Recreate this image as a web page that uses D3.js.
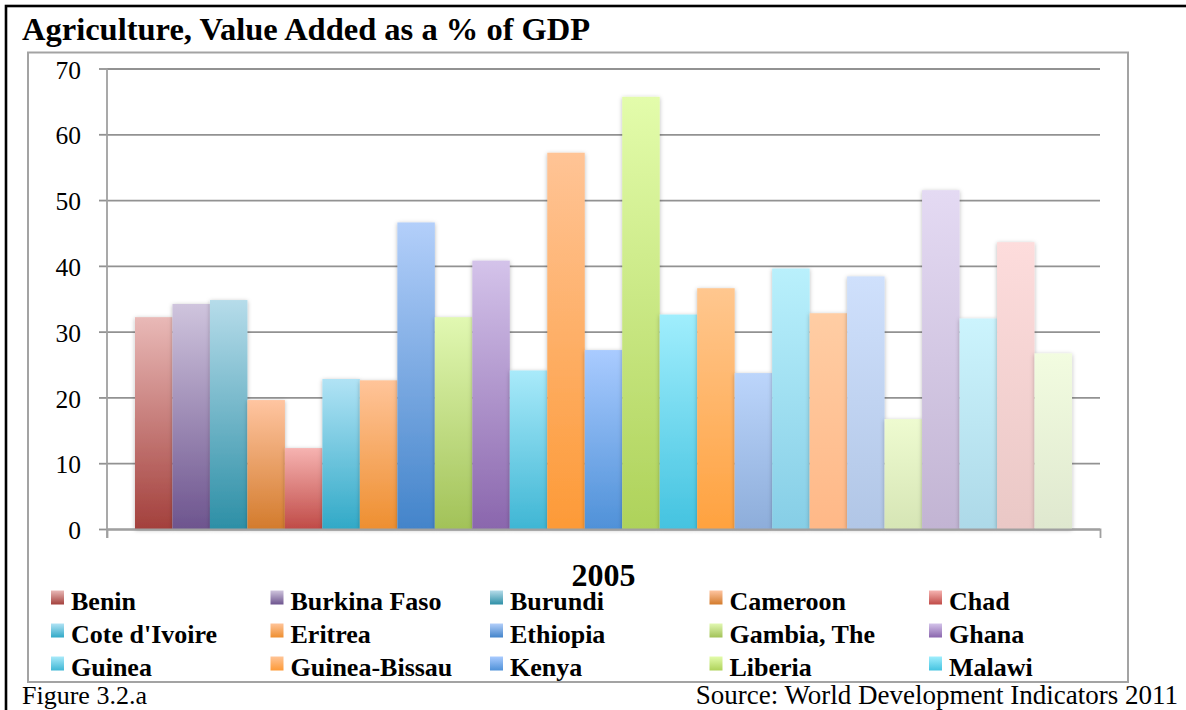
<!DOCTYPE html>
<html>
<head>
<meta charset="utf-8">
<script src="https://cdn.jsdelivr.net/npm/d3@7"></script>
<style>
  html, body { margin: 0; padding: 0; background: #fff; }
  svg { display: block; }
  text { font-family: "Liberation Serif", "Times New Roman", serif; fill: #000; }
</style>
</head>
<body>
<svg id="chart" width="1186" height="710"></svg>
<script>
// ---------- data ----------
const title = "Agriculture, Value Added as a % of GDP";
const categoryLabel = "2005";
const countries = ["Benin", "Burkina Faso", "Burundi", "Cameroon", "Chad",
  "Cote d'Ivoire", "Eritrea", "Ethiopia", "Gambia, The", "Ghana",
  "Guinea", "Guinea-Bissau", "Kenya", "Liberia", "Malawi",
  "Mali", "Mozambique", "Niger", "Nigeria", "Rwanda",
  "Senegal", "Sierra Leone", "Tanzania", "Togo", "Uganda"];
const values = [32.2, 34.2, 34.8, 19.6, 12.3,
  22.8, 22.6, 46.6, 32.2, 40.8,
  24.1, 57.2, 27.2, 65.7, 32.6,
  36.6, 23.7, 39.6, 32.8, 38.4,
  16.7, 51.5, 32.0, 43.6, 26.7];
const colorTop = ["#e9b9b7", "#cfc4dd", "#b6dcea", "#ffc5a1", "#f6b3b1",
  "#b1e3f5", "#ffc499", "#b3cffa", "#e1f8b2", "#d4c3ea",
  "#a9eafa", "#ffc496", "#a9cbff", "#e3fcab", "#a0eefd",
  "#ffc78f", "#bcd5fb", "#b9f0fc", "#ffcda4", "#cfe0fc",
  "#eefbd0", "#e4daf3", "#ccf4fd", "#fddcdc", "#f2fce0"];
const colorBottom = ["#a3403c", "#6d548e", "#2d8fa6", "#d37b2c", "#c04b47",
  "#31a9c7", "#ee8f30", "#4384ca", "#a2c258", "#8a66ad",
  "#3fb6d4", "#fd9a37", "#4f91d8", "#aed25a", "#44c3e0",
  "#ffa23f", "#8dadda", "#86cee6", "#ffb887", "#b1c6e6",
  "#d6e5b5", "#c2b4d3", "#add9e8", "#eac8c6", "#dfe8cf"];
const legendCount = 15;   // legend is truncated in the original after 3 rows
const yTicks = [0, 10, 20, 30, 40, 50, 60, 70];
const figureLabel = "Figure 3.2.a";
const sourceLabel = "Source: World Development Indicators 2011";

// ---------- layout ----------
const W = 1186, H = 710;
const plot = { left: 107, right: 1100, top: 68.5, bottom: 529 };

const svg = d3.select("#chart");
const defs = svg.append("defs");

countries.forEach((c, i) => {
  const g = defs.append("linearGradient")
    .attr("id", "grad" + i).attr("x1", 0).attr("y1", 0).attr("x2", 0).attr("y2", 1);
  g.append("stop").attr("offset", "0%").attr("stop-color", colorTop[i]);
  g.append("stop").attr("offset", "100%").attr("stop-color", colorBottom[i]);
});

const shadow = defs.append("filter").attr("id", "shadow")
  .attr("x", "-30%").attr("y", "-10%").attr("width", "160%").attr("height", "120%");
shadow.append("feDropShadow").attr("dx", 0).attr("dy", 1)
  .attr("stdDeviation", 2.2).attr("flood-color", "#000").attr("flood-opacity", 0.28);

// outer black border (right/bottom edges fall outside the picture)
svg.append("rect").attr("x", 6).attr("y", 6).attr("width", W + 20).attr("height", H + 20)
  .attr("fill", "none").attr("stroke", "#000").attr("stroke-width", 2.6);

// title
svg.append("text").attr("x", 22).attr("y", 40)
  .attr("font-size", 32.5).attr("font-weight", "bold").text(title);

// chart frame
svg.append("rect").attr("x", 28).attr("y", 52.5).attr("width", 1100).attr("height", 629.5)
  .attr("fill", "none").attr("stroke", "#a3a3a3").attr("stroke-width", 2);

// scales
const y = d3.scaleLinear().domain([0, 70]).range([plot.bottom, plot.top]);
const xCat = d3.scaleBand().domain([categoryLabel]).range([plot.left, plot.right]);
const x = d3.scaleBand().domain(countries).range([plot.left, plot.right])
  .paddingInner(0).paddingOuter(0.747);

// gridlines + y axis
const yAxis = d3.axisLeft(y).tickValues(yTicks).tickSize(-(plot.right - plot.left))
  .tickSizeOuter(0).tickPadding(26);
const gy = svg.append("g").attr("transform", `translate(${plot.left},0)`).call(yAxis);
gy.select(".domain").remove();
gy.selectAll(".tick line").attr("stroke", "#929292").attr("stroke-width", 1.8);
gy.selectAll(".tick").append("line").attr("x1", -8).attr("x2", 0)
  .attr("stroke", "#929292").attr("stroke-width", 1.8);
gy.selectAll(".tick text").attr("font-size", 25.5).attr("dy", "0.38em")
  .style("font-family", "'Liberation Serif', serif").attr("fill", "#000");

// y axis line
svg.append("line").attr("x1", plot.left).attr("x2", plot.left)
  .attr("y1", plot.top).attr("y2", plot.bottom + 9)
  .attr("stroke", "#a0a0a0").attr("stroke-width", 1.8);

// bars
svg.append("g").selectAll("rect").data(countries).join("rect")
  .attr("x", d => x(d))
  .attr("y", (d, i) => y(values[i]))
  .attr("width", x.bandwidth())
  .attr("height", (d, i) => y(0) - y(values[i]))
  .attr("fill", (d, i) => `url(#grad${i})`)
  .attr("filter", "url(#shadow)");

// x axis
const xAxis = d3.axisBottom(xCat).tickSize(0).tickSizeOuter(9).tickFormat("");
const gx = svg.append("g").attr("transform", `translate(0,${plot.bottom})`).call(xAxis);
gx.select(".domain").attr("stroke", "#a0a0a0").attr("stroke-width", 1.8);

// category label
svg.append("text").attr("x", xCat(categoryLabel) + xCat.bandwidth() / 2).attr("y", 586)
  .attr("text-anchor", "middle").attr("font-size", 32).attr("font-weight", "bold")
  .text(categoryLabel);

// legend
const legend = svg.append("g");
const legItems = countries.slice(0, legendCount);
legItems.forEach((c, i) => {
  const col = i % 5, row = Math.floor(i / 5);
  const lx = 51 + col * 219.5, ly = 609.5 + row * 33;
  legend.append("rect").attr("x", lx).attr("y", ly - 19).attr("width", 13).attr("height", 14)
    .attr("fill", `url(#grad${i})`);
  legend.append("text").attr("x", lx + 20).attr("y", ly)
    .attr("font-size", 26).attr("font-weight", "bold").text(c);
});

// footer texts
svg.append("text").attr("x", 22).attr("y", 704).attr("font-size", 26).text(figureLabel);
svg.append("text").attr("x", 1178).attr("y", 704).attr("text-anchor", "end")
  .attr("font-size", 27).text(sourceLabel);
</script>
</body>
</html>
